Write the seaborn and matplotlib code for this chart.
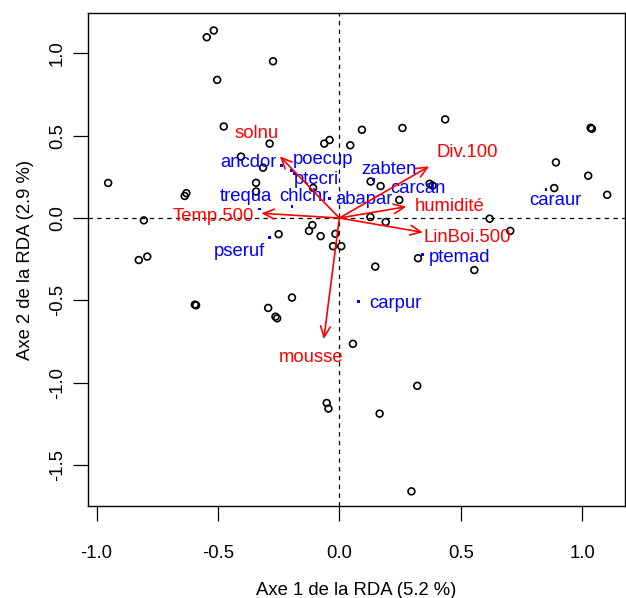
import pandas as pd
import matplotlib
matplotlib.use('Agg')
import matplotlib.pyplot as plt
import seaborn as sns

# site scores (black circles)
site_x = [-0.952, -0.546, -0.517, -0.273, -0.503, -0.476, -0.287, -0.062, -0.040, 0.045,
          -0.405, -0.314, -0.343, -0.630, -0.637, -0.343, -0.108, 0.436, 0.260, 0.093,
          1.035, 1.040, 0.892, 1.025, 1.103, 0.885, 0.129, 0.170, 0.372, 0.384,
          0.247, 0.128, 0.191, 0.619, 0.704, 0.324, 0.148, 0.556, 0.056, 0.321,
          -0.052, -0.045, 0.166, 0.297, -0.805, -0.250, -0.111, -0.125, -0.077, -0.016,
          -0.026, 0.008, -0.826, -0.791, -0.595, -0.590, -0.195, -0.293, -0.263, -0.256]
site_y = [0.213, 1.098, 1.139, 0.952, 0.839, 0.556, 0.452, 0.452, 0.474, 0.442,
          0.373, 0.306, 0.214, 0.151, 0.134, 0.161, 0.183, 0.599, 0.547, 0.536,
          0.548, 0.542, 0.338, 0.257, 0.141, 0.182, 0.222, 0.194, 0.208, 0.197,
          0.110, 0.006, -0.024, -0.004, -0.078, -0.244, -0.295, -0.316, -0.764, -1.019,
          -1.123, -1.157, -1.188, -1.660, -0.014, -0.098, -0.043, -0.078, -0.110, -0.096,
          -0.171, -0.171, -0.255, -0.234, -0.526, -0.530, -0.483, -0.546, -0.599, -0.609]

# species scores (blue)
sp_names = ['ancdor', 'poecup', 'ptecri', 'trequa', 'chlchr', 'abapar',
            'zabten', 'carcan', 'caraur', 'pseruf', 'ptemad', 'carpur']
sp_x = [-0.239, -0.198, -0.185, -0.328, -0.195, -0.040, 0.140, 0.383, 0.851, -0.286, 0.344, 0.079]
sp_y = [0.318, 0.289, 0.270, 0.055, 0.070, 0.118, 0.232, 0.196, 0.171, -0.119, -0.223, -0.506]

# environmental variables (red arrows)
env_names = ['solnu', 'Div.100', 'humidité', 'LinBoi.500', 'Temp.500', 'mousse']
env_x = [-0.245, 0.370, 0.276, 0.344, -0.321, -0.064]
env_y = [0.375, 0.314, 0.069, -0.087, 0.029, -0.735]

x_ticks = [-1.0, -0.5, 0.0, 0.5, 1.0]
y_ticks = [1.0, 0.5, 0.0, -0.5, -1.0, -1.5]

# label placement (offset pixels from the point)
sp_off = {'ancdor': (-33, 3), 'poecup': (32, 11), 'ptecri': (22, -6), 'trequa': (-14, 12),
          'chlchr': (12, 10), 'abapar': (34, -1), 'zabten': (16, 10), 'carcan': (-14, -3),
          'caraur': (9, -11), 'pseruf': (-30, -14), 'ptemad': (37, -3), 'carpur': (37, -2)}
env_off = {'solnu': (-23, 23), 'Div.100': (38, 14), 'humidité': (43, 0),
           'LinBoi.500': (44, -5), 'Temp.500': (-48, -3), 'mousse': (-13, -18)}

sns.set_theme(style='white')
plt.rcParams['font.family'] = ['Liberation Sans', 'DejaVu Sans']
plt.rcParams['text.color'] = 'black'
plt.rcParams['axes.labelcolor'] = 'black'
plt.rcParams['xtick.color'] = 'black'
plt.rcParams['ytick.color'] = 'black'
fs = 13.3

fig = plt.figure(figsize=(6.26, 5.98), dpi=100)
ax = fig.add_axes([0.1406, 0.1538, 0.858, 0.8244])

ax.axhline(0, color='black', lw=0.9, ls=(0, (3.5, 3.5)), zorder=1)
ax.axvline(0, color='black', lw=0.9, ls=(0, (3.5, 3.5)), zorder=1)

sites = pd.DataFrame({'x': site_x, 'y': site_y})
sns.scatterplot(data=sites, x='x', y='y', ax=ax, marker='o', s=24,
                facecolor='none', edgecolor='black', linewidth=1.2, zorder=3)

species = pd.DataFrame({'x': sp_x, 'y': sp_y, 'name': sp_names})
sns.scatterplot(data=species, x='x', y='y', ax=ax, marker='s', s=4,
                color='blue', edgecolor='none', zorder=3)
for n, x, y in zip(sp_names, sp_x, sp_y):
    dx, dy = sp_off[n]
    ax.annotate(n, (x, y), xytext=(dx, dy), textcoords='offset pixels',
                ha='center', va='center', color='blue', fontsize=fs, zorder=4)

for n, x, y in zip(env_names, env_x, env_y):
    ax.annotate('', xy=(x, y), xytext=(0, 0),
                arrowprops=dict(arrowstyle='->,head_length=0.55,head_width=0.25',
                                color='red', lw=1.2, shrinkA=0, shrinkB=0,
                                mutation_scale=14), zorder=5)
    dx, dy = env_off[n]
    ax.annotate(n, (x, y), xytext=(dx, dy), textcoords='offset pixels',
                ha='center', va='center', color='red', fontsize=fs, zorder=4)

ax.set_xlim(-1.035, 1.177)
ax.set_ylim(-1.749, 1.245)
ax.set_xticks(x_ticks)
ax.set_xticklabels([f'{t:.1f}' for t in x_ticks], fontsize=fs)
ax.set_yticks(y_ticks)
ax.set_yticklabels([f'{t:.1f}' for t in y_ticks], fontsize=fs, rotation=90, va='center')
ax.tick_params(axis='both', direction='out', length=10.8, width=0.9, color='black',
               labelcolor='black', bottom=True, left=True)
ax.tick_params(axis='x', pad=17)
ax.tick_params(axis='y', pad=5)
for sp in ax.spines.values():
    sp.set_visible(True)
    sp.set_color('black')
    sp.set_linewidth(1.0)

ax.set_xlabel('Axe 1 de la RDA (5.2 %)', fontsize=fs, color='black')
ax.set_ylabel('Axe 2 de la RDA (2.9 %)', fontsize=fs, color='black')
ax.xaxis.label.set_va('center')
ax.yaxis.label.set_va('center')
ax.xaxis.set_label_coords(0.5, -0.172)
ax.yaxis.set_label_coords(-0.117, 0.5)

fig.savefig('out.png', dpi=100, facecolor='white')
